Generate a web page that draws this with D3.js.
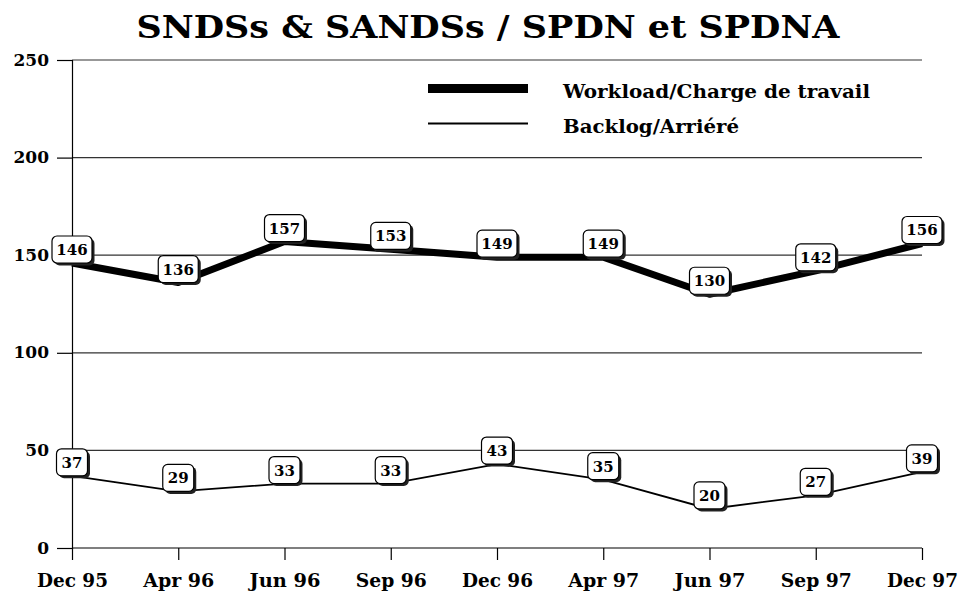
<!DOCTYPE html>
<html>
<head>
<meta charset="utf-8">
<script src="https://cdn.jsdelivr.net/npm/d3@7"></script>
<style>
  html, body { margin: 0; padding: 0; background: #fff; }
  svg { display: block; }
  text { font-family: "DejaVu Serif", serif; font-weight: bold; fill: #000; }
</style>
</head>
<body>
<svg id="chart" width="959" height="592"></svg>
<script>
// Periods on the x axis
const periods = ["Dec 95", "Apr 96", "Jun 96", "Sep 96", "Dec 96", "Apr 97", "Jun 97", "Sep 97", "Dec 97"];
// Series values
const workload = [146, 136, 157, 153, 149, 149, 130, 142, 156];
const backlog  = [37, 29, 33, 33, 43, 35, 20, 27, 39];
// Y axis ticks
const yTicks = [0, 50, 100, 150, 200, 250];

const titleText = "SNDSs & SANDSs / SPDN et SPDNA";
const legendWorkload = "Workload/Charge de travail";
const legendBacklog = "Backlog/Arriéré";

const FONT = "DejaVu Serif, serif";
const svg = d3.select("#chart");

const plotLeft = 72, plotRight = 922, plotTop = 60, plotBottom = 548;

const x = d3.scalePoint().domain(periods).range([plotLeft, plotRight]);
const y = d3.scaleLinear().domain([0, 250]).range([plotBottom, plotTop]);

// Title
svg.append("text")
  .attr("x", 488).attr("y", 38)
  .attr("text-anchor", "middle")
  .attr("font-size", 32)
  .attr("textLength", 703).attr("lengthAdjust", "spacingAndGlyphs")
  .text(titleText);

// Horizontal gridlines
svg.append("g").selectAll("line")
  .data(yTicks.filter(d => d > 0))
  .join("line")
  .attr("x1", plotLeft).attr("x2", plotRight)
  .attr("y1", d => y(d)).attr("y2", d => y(d))
  .attr("stroke", "#333").attr("stroke-width", 1.2);

// Y axis
const yAxis = svg.append("g")
  .attr("transform", `translate(${plotLeft},0)`)
  .call(d3.axisLeft(y).tickValues(yTicks).tickSize(15).tickPadding(8).tickFormat(d3.format("d")));
yAxis.select(".domain").attr("stroke", "#000").attr("stroke-width", 1.2);
yAxis.selectAll(".tick line").attr("stroke", "#000").attr("stroke-width", 1.2);
yAxis.selectAll(".tick text")
  .attr("font-family", FONT).attr("font-weight", "bold")
  .attr("font-size", 17).attr("fill", "#000").attr("dy", "0.3em");

// X axis
const xAxis = svg.append("g")
  .attr("transform", `translate(0,${plotBottom})`)
  .call(d3.axisBottom(x).tickSize(12).tickPadding(14));
xAxis.select(".domain").attr("stroke", "#000").attr("stroke-width", 1.2).attr("d", `M${plotLeft},0H${plotRight}`);
xAxis.selectAll(".tick line").attr("stroke", "#000").attr("stroke-width", 1.2);
xAxis.selectAll(".tick text")
  .attr("font-family", FONT).attr("font-weight", "bold")
  .attr("font-size", 18).attr("fill", "#000")
  .attr("textLength", 71).attr("lengthAdjust", "spacingAndGlyphs");

// Lines
const line = d3.line().x((d, i) => x(periods[i])).y(d => y(d));
svg.append("path").datum(workload)
  .attr("d", line).attr("fill", "none")
  .attr("stroke", "#000").attr("stroke-width", 7).attr("stroke-linejoin", "round");
svg.append("path").datum(backlog)
  .attr("d", line).attr("fill", "none")
  .attr("stroke", "#000").attr("stroke-width", 1.8);

// Value labels: rounded boxes with a drop shadow, sitting on top of each point
function labels(values, w) {
  const g = svg.append("g");
  const h = 27;
  const item = g.selectAll("g").data(values).join("g")
    .attr("transform", (d, i) => `translate(${x(periods[i])},${y(d)})`);
  item.append("rect")
    .attr("x", -w / 2 + 2.5).attr("y", -h + 2.5)
    .attr("width", w).attr("height", h).attr("rx", 5)
    .attr("fill", "#222");
  item.append("rect")
    .attr("x", -w / 2).attr("y", -h)
    .attr("width", w).attr("height", h).attr("rx", 5)
    .attr("fill", "#fff").attr("stroke", "#000").attr("stroke-width", 1.2);
  item.append("text")
    .attr("x", 0).attr("y", -8)
    .attr("text-anchor", "middle")
    .attr("font-size", 15)
    .text(d => d);
}
labels(workload, 40);
labels(backlog, 31);

// Legend
svg.append("line").attr("x1", 428).attr("x2", 528).attr("y1", 88.5).attr("y2", 88.5)
  .attr("stroke", "#000").attr("stroke-width", 9);
svg.append("text").attr("x", 563).attr("y", 98)
  .attr("font-size", 18).attr("textLength", 307).attr("lengthAdjust", "spacingAndGlyphs")
  .text(legendWorkload);
svg.append("line").attr("x1", 428).attr("x2", 528).attr("y1", 123.5).attr("y2", 123.5)
  .attr("stroke", "#000").attr("stroke-width", 1.8);
svg.append("text").attr("x", 563).attr("y", 133)
  .attr("font-size", 18).attr("textLength", 176).attr("lengthAdjust", "spacingAndGlyphs")
  .text(legendBacklog);
</script>
</body>
</html>
